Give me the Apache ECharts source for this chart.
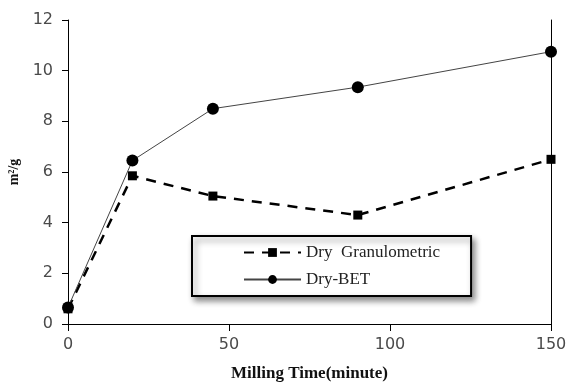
<!DOCTYPE html>
<html>
<head>
<meta charset="utf-8">
<script src="https://cdn.jsdelivr.net/npm/echarts@6/dist/echarts.min.js"></script>
<style>
  html, body { margin: 0; padding: 0; background: #fff; }
  #chart { width: 570px; height: 383px; }
</style>
</head>
<body>
<div id="chart"></div>
<script>
// Specific surface vs milling time
const millingTime = [0, 20, 45, 90, 150];
const dryGranulometric = [0.6, 5.85, 5.05, 4.3, 6.5];
const dryBET = [0.65, 6.45, 8.5, 9.35, 10.75];
const seriesNames = ['Dry  Granulometric', 'Dry-BET'];
const xTicks = [0, 50, 100, 150];
const yTicks = [0, 2, 4, 6, 8, 10, 12];

const pairs = (xs, ys) => xs.map((x, i) => [x, ys[i]]);

const chart = echarts.init(document.getElementById('chart'), null, { renderer: 'canvas' });

const tickFont = { fontFamily: 'DejaVu Sans', fontSize: 16, color: '#4a4a4a' };

chart.setOption({
  animation: false,
  backgroundColor: '#fff',
  grid: { left: 68, right: 19, top: 20, bottom: 59, containLabel: false, outerBoundsMode: 'none' },
  xAxis: {
    type: 'value',
    min: xTicks[0],
    max: xTicks[xTicks.length - 1],
    interval: 50,
    name: 'Milling Time(minute)',
    nameLocation: 'middle',
    nameGap: 41,
    nameTextStyle: { fontFamily: 'Liberation Serif', fontWeight: 'bold', fontSize: 17, color: '#111' },
    axisLine: { show: true, onZero: false, lineStyle: { color: '#000', width: 1 } },
    axisTick: { show: true, inside: false, length: 7, lineStyle: { color: '#000' } },
    axisLabel: Object.assign({ margin: 13 }, tickFont),
    splitLine: { show: false }
  },
  yAxis: [{
    type: 'value',
    min: yTicks[0],
    max: yTicks[yTicks.length - 1],
    interval: 2,
    name: 'm\u00B2/g',
    nameLocation: 'middle',
    nameGap: 46,
    nameRotate: 90,
    nameTextStyle: { fontFamily: 'Liberation Serif', fontWeight: 'bold', fontSize: 14, color: '#111' },
    axisLine: { show: true, lineStyle: { color: '#000', width: 1 } },
    axisTick: { show: true, inside: false, length: 6, lineStyle: { color: '#000' } },
    axisLabel: Object.assign({ margin: 15 }, tickFont),
    splitLine: { show: false }
  }, {
    type: 'value',
    position: 'right',
    min: yTicks[0],
    max: yTicks[yTicks.length - 1],
    interval: 2,
    axisLine: { show: true, lineStyle: { color: '#000', width: 1 } },
    axisTick: { show: false },
    axisLabel: { show: false },
    splitLine: { show: false }
  }],
  legend: {
    orient: 'vertical',
    left: 192,
    top: 236,
    padding: [8, 31, 8, 51],
    itemGap: 10,
    itemWidth: 57,
    itemHeight: 11,
    backgroundColor: '#fff',
    borderColor: '#000',
    borderWidth: 2,
    borderRadius: 0,
    shadowColor: 'rgba(0,0,0,0.45)',
    shadowBlur: 6,
    shadowOffsetX: 3,
    shadowOffsetY: 4,
    textStyle: { fontFamily: 'Liberation Serif', fontSize: 17, color: '#222' },
    data: seriesNames
  },
  series: [{
    name: seriesNames[0],
    type: 'line',
    data: pairs(millingTime, dryGranulometric),
    symbol: 'rect',
    symbolSize: 9,
    itemStyle: { color: '#000' },
    lineStyle: { color: '#000', width: 2.5, type: [10, 8] },
    z: 2
  }, {
    name: seriesNames[1],
    type: 'line',
    data: pairs(millingTime, dryBET),
    symbol: 'circle',
    symbolSize: 12,
    itemStyle: { color: '#000' },
    lineStyle: { color: '#444', width: 1 },
    z: 3
  }]
});
</script>
</body>
</html>
